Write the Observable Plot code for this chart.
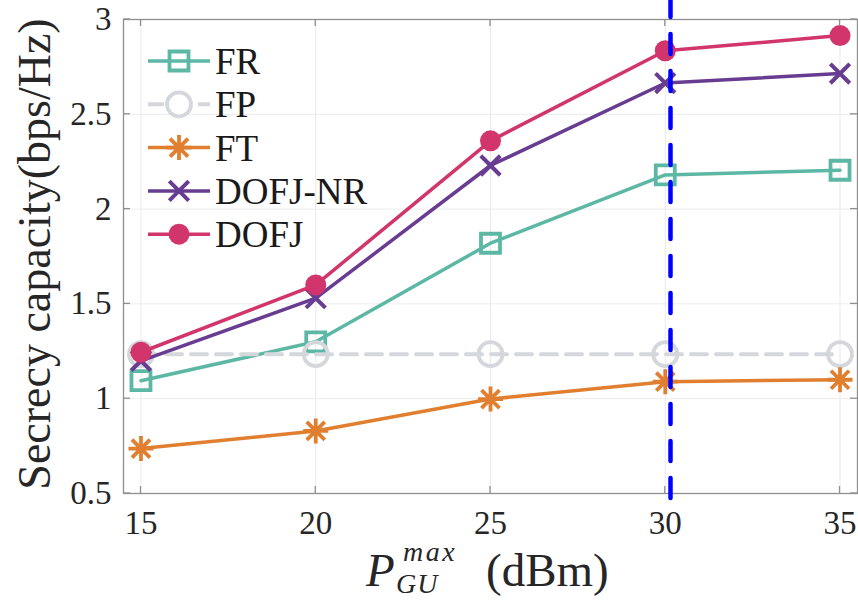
<!DOCTYPE html>
<html>
<head>
<meta charset="utf-8">
<script src="https://cdn.jsdelivr.net/npm/d3@7"></script>
<script src="https://cdn.jsdelivr.net/npm/@observablehq/plot@0.6"></script>
<style>
  html, body { margin: 0; padding: 0; background: #fff; }
  #chart { width: 858px; height: 601px; }
</style>
</head>
<body>
<div id="chart"></div>
<script>
// ---- data ----
const powers = [15, 20, 25, 30, 35];
const seriesNames = ["FR", "FP", "FT", "DOFJ-NR", "DOFJ"];
const FR     = [1.095, 1.30, 1.82, 2.18, 2.205];
const FP     = [1.235, 1.235, 1.235, 1.235, 1.235];
const FT     = [0.737, 0.83, 0.998, 1.09, 1.10];
const DOFJNR = [1.20, 1.53, 2.23, 2.665, 2.715];
const DOFJ   = [1.245, 1.60, 2.36, 2.835, 2.915];
const xTicks = [15, 20, 25, 30, 35];
const yTicks = [0.5, 1, 1.5, 2, 2.5, 3];
const refLineX = [30.15];

// ---- styles ----
const colors = {"FR": "#5cb7a5", "FP": "#d4d7db", "FT": "#e07f2f", "DOFJ-NR": "#683c91", "DOFJ": "#d2356b"};
const SERIF = "'Liberation Serif', 'Times New Roman', serif";

const valuesBy = {"FR": FR, "FP": FP, "FT": FT, "DOFJ-NR": DOFJNR, "DOFJ": DOFJ};
const rows = seriesNames.map(name => powers.map((p, i) => ({name, x: p, y: valuesBy[name][i]})));

// custom symbols (size = pi r^2)
const rad = size => Math.sqrt(size / Math.PI);
const symSquare = {draw(c, size) { const r = rad(size); c.rect(-r, -r, 2 * r, 2 * r); }};
const symTimes = {draw(c, size) { const r = rad(size) * 0.72; c.moveTo(-r, -r); c.lineTo(r, r); c.moveTo(-r, r); c.lineTo(r, -r); }};
const symAst = {draw(c, size) {
  const r = rad(size), d = r * 0.72;
  c.moveTo(-r, 0); c.lineTo(r, 0); c.moveTo(0, -r); c.lineTo(0, r);
  c.moveTo(-d, -d); c.lineTo(d, d); c.moveTo(-d, d); c.lineTo(d, -d);
}};
const markerOpts = {
  "FR":      {symbol: symSquare, r: 9.5, fill: "none", stroke: colors["FR"], strokeWidth: 3.8},
  "FP":      {symbol: "circle", r: 12, fill: "none", stroke: colors["FP"], strokeWidth: 3.8},
  "FT":      {symbol: symAst, r: 12.5, fill: "none", stroke: colors["FT"], strokeWidth: 3.8},
  "DOFJ-NR": {symbol: symTimes, r: 13.5, fill: "none", stroke: colors["DOFJ-NR"], strokeWidth: 4},
  "DOFJ":    {symbol: "circle", r: 10.5, fill: colors["DOFJ"], stroke: "none"}
};
const lineOpts = {
  "FP": {strokeDasharray: "16,9", strokeWidth: 4}
};

const marks = [
  Plot.gridX(xTicks, {stroke: "#e9e9e9", strokeOpacity: 1, strokeWidth: 1}),
  Plot.gridY(yTicks, {stroke: "#ececec", strokeOpacity: 1, strokeWidth: 1}),
  Plot.frame({stroke: "#8f8f8f", strokeWidth: 1.3}),
  Plot.axisX({ticks: xTicks, tickSize: 0, tickPadding: 17, fontSize: 33, fontFamily: SERIF, color: "#262626", label: null}),
  Plot.axisY({ticks: yTicks, tickSize: 0, tickPadding: 12, fontSize: 33, fontFamily: SERIF, color: "#262626", label: null, tickFormat: d => String(d)})
];
rows.forEach((data, k) => {
  const name = seriesNames[k];
  marks.push(Plot.line(data, {x: "x", y: "y", stroke: colors[name], strokeWidth: 3.5, ...(lineOpts[name] || {})}));
  marks.push(Plot.dot(data, {x: "x", y: "y", ...markerOpts[name]}));
});
marks.push(Plot.ruleX(refLineX, {x: d => d, y1: 0.474, y2: 3.1, stroke: "#0000ff", strokeWidth: 4.5, strokeDasharray: "20,17", strokeLinecap: "round", clip: false}));

const chart = Plot.plot({
  width: 858,
  height: 601,
  marginLeft: 123,
  marginRight: 1,
  marginTop: 19,
  marginBottom: 108,
  x: {domain: [14.5, 35.5]},
  y: {domain: [0.5, 3]},
  style: {background: "#fff", overflow: "visible", fontFamily: SERIF},
  marks
});
document.getElementById("chart").appendChild(chart);

// ---- inward ticks on all four sides, placed through the chart's scales ----
const sx = chart.scale("x"), sy = chart.scale("y");
const svg = d3.select(chart);
const [x0, x1] = sx.range, [y0, y1] = sy.range; // y0 bottom, y1 top
const tk = svg.append("g").attr("stroke", "#8f8f8f").attr("stroke-width", 1.3);
xTicks.forEach(v => {
  const px = sx.apply(v);
  tk.append("line").attr("x1", px).attr("x2", px).attr("y1", y0).attr("y2", y0 - 7);
  tk.append("line").attr("x1", px).attr("x2", px).attr("y1", y1).attr("y2", y1 + 7);
});
yTicks.forEach(v => {
  const py = sy.apply(v);
  tk.append("line").attr("y1", py).attr("y2", py).attr("x1", x0).attr("x2", x0 + 7);
  tk.append("line").attr("y1", py).attr("y2", py).attr("x1", x1).attr("x2", x1 - 7);
});

// ---- y label ----
svg.append("text")
  .attr("transform", `translate(50, ${(y0 + y1) / 2 - 2}) rotate(-90)`)
  .attr("text-anchor", "middle")
  .style("font-family", SERIF).style("font-size", "46px").attr("fill", "#262626")
  .text("Secrecy capacity(bps/Hz)");

// ---- x label: P_GU^max (dBm) ----
const xl = svg.append("text")
  .attr("x", 366).attr("y", 586).attr("text-anchor", "start")
  .style("font-family", SERIF).attr("fill", "#262626").style("font-size", "47px");
xl.append("tspan").attr("font-style", "italic").text("P");
xl.append("tspan").attr("font-style", "italic").style("font-size", "28px").style("letter-spacing", "2.5px").attr("x", 403).attr("y", 561).text("max");
xl.append("tspan").attr("font-style", "italic").style("font-size", "28px").style("letter-spacing", "1px").attr("x", 396).attr("y", 593).text("GU");
xl.append("tspan").attr("x", 486).attr("y", 586).text("(dBm)");

// ---- legend ----
const lg = svg.append("g");
seriesNames.forEach((name, i) => {
  const cy = 61 + i * 43.3;
  const g = lg.append("g");
  const ln = g.append("line").attr("x1", 148).attr("x2", 210).attr("y1", cy).attr("y2", cy)
    .attr("stroke", colors[name]).attr("stroke-width", name === "FP" ? 4 : 3.5);
  if (name === "FP") ln.attr("stroke-dasharray", "16,9");
  const m = markerOpts[name];
  const sym = typeof m.symbol === "string" ? d3.symbolCircle : m.symbol;
  g.append("path")
    .attr("transform", `translate(179, ${cy})`)
    .attr("d", d3.symbol(sym, Math.PI * m.r * m.r)())
    .attr("fill", m.fill === "none" ? (name === "FP" ? "#fff" : "none") : m.fill)
    .attr("stroke", m.stroke === "none" ? "none" : m.stroke)
    .attr("stroke-width", m.strokeWidth || 0);
  g.append("text").attr("x", 215).attr("y", cy).attr("dy", "0.35em").attr("text-anchor", "start")
    .style("font-family", SERIF).style("font-size", "37px").attr("fill", "#1a1a1a").text(name);
});
</script>
</body>
</html>
